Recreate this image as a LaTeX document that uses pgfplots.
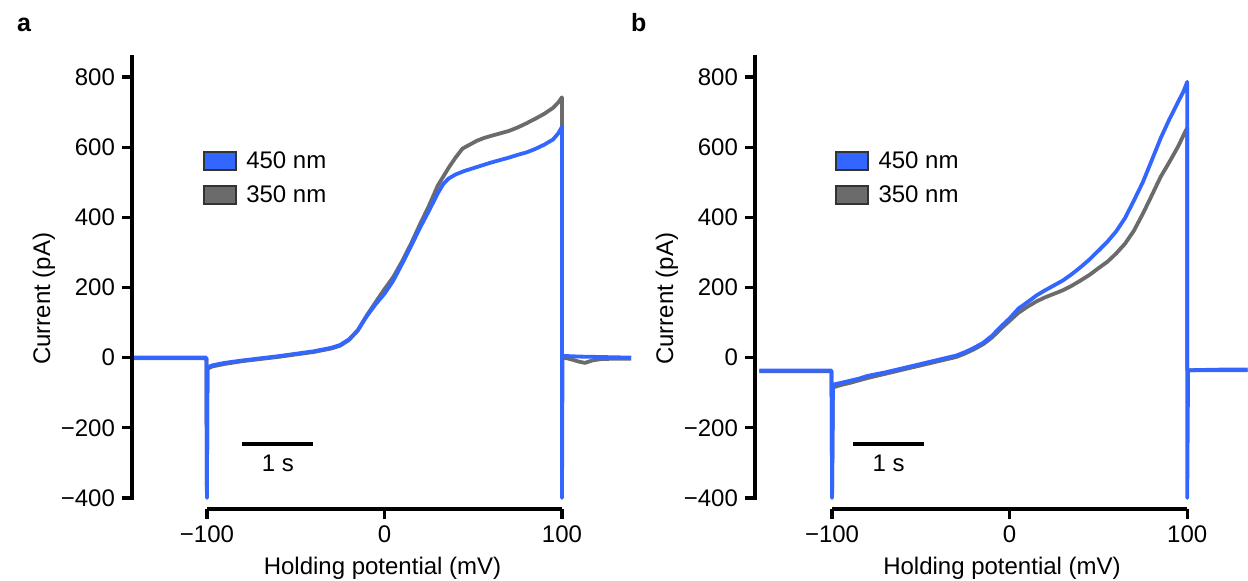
\documentclass[border=0pt]{standalone}
\usepackage{fontspec}
\setmainfont{Liberation Sans}
\usepackage{pgfplots}
\pgfplotsset{compat=1.18}
\definecolor{cblue}{HTML}{3366FF}
\definecolor{cgray}{HTML}{6B6B6B}
\definecolor{cedge}{HTML}{333333}
\newcommand{\fs}{\fontsize{12}{14}\selectfont}
\pgfplotsset{
  panel/.style={
    scale only axis,
    height=226pt,
    ymin=-431.4, ymax=857,
    clip=false,
    axis lines*=left,
    axis line style={draw=none},
    tick align=outside,
    major tick length=5pt,
    tick style={black, line width=1.6pt},
    xtick={-100,0,100},
    xticklabels={−100,0,100},
    ytick={-400,-200,0,200,400,600,800},
    yticklabels={−400,−200,0,200,400,600,800},
    tick label style={font=\fs},
    label style={font=\fs},
    xlabel={Holding potential (mV)},
    ylabel={Current (pA)},
    ylabel shift=-4pt,
    every axis y label/.append style={at={(ticklabel cs:0.465)}},
    legend style={draw=none, fill=none, inner sep=0pt, font=\fs,
      anchor=north west, row sep=3pt,
      nodes={inner sep=2pt},
      /tikz/every even column/.append style={column sep=2pt}},
    legend cell align=left,
  },
  trace/.style={line width=1.9pt, line join=round, forget plot},
  lgimg/.style={legend image code/.code={\draw[fill=#1,draw=cedge,line width=1pt] (0pt,-4.5pt) rectangle (16pt,4.5pt); \path (19pt,0pt);}},
}
\begin{document}
\begin{tikzpicture}
\useasboundingbox (0,0) rectangle (624pt,290.5pt);
\node[anchor=base west, font=\fontsize{12.5}{14}\selectfont\bfseries] at (5pt,274.5pt) {a};
\node[anchor=base west, font=\fontsize{12.5}{14}\selectfont\bfseries] at (312pt,274.5pt) {b};
% ---------------- panel a ----------------
\begin{axis}[panel, at={(66pt,36pt)}, anchor=south west, width=250.5pt,
  xmin=-142.2, xmax=140,
  legend style={at={(axis cs:-102.5,600)}}]
\addlegendimage{lgimg=cblue}
\addlegendentry{450 nm}
\addlegendimage{lgimg=cgray}
\addlegendentry{350 nm}
\draw[line width=1.6pt, line cap=rect] (axis cs:-142.2,-400) -- (axis cs:-142.2,857);
\draw[line width=1.6pt] (axis cs:-100,-431.4) -- (axis cs:100,-431.4);
\addplot[trace, cgray] coordinates {
(-141,-2) (-120,-2) (-100.3,-2) (-100,-380) (-99.7,-32) (-97,-25) (-90,-18) (-80,-10)
(-70,-4) (-60,2) (-50,9) (-40,16) (-30,26) (-25,34) (-20,50) (-15,78) (-10,120)
(-5,158) (0,195) (5,230) (10,275) (15,325) (20,380) (25,432) (30,490) (33,515)
(36,540) (40,570) (44,596) (48,607) (52,618) (56,626) (60,632) (65,639) (70,646)
(75,656) (80,668) (85,681) (90,695) (95,712) (98,728) (100,742) (100,0)
(103,-2) (106,-6) (110,-12) (113,-15) (117,-8) (122,-4) (130,-3) (139,-3)};
\addplot[trace, cblue] coordinates {
(-141,0) (-120,0) (-100.3,0) (-100,-400) (-99.7,-28) (-97,-22) (-90,-15) (-80,-8)
(-70,-2) (-60,4) (-50,11) (-40,18) (-30,28) (-25,36) (-20,52) (-15,78) (-10,118)
(-5,152) (0,182) (5,220) (10,268) (15,318) (20,370) (25,418) (30,468) (33,494)
(36,510) (40,522) (45,532) (50,540) (55,548) (60,556) (65,563) (70,570) (75,578)
(80,585) (85,595) (90,607) (95,622) (98,640) (100,658) (100,-400) (100.3,5)
(110,3) (120,2) (130,1) (139,0)};
\addplot[black, line width=1.6pt, forget plot] coordinates {(-80,-246) (-40,-246)};
\node[font=\fs] at (axis cs:-60,-300) {1 s};
\end{axis}
% ---------------- panel b ----------------
\begin{axis}[panel, at={(377.5pt,36pt)}, anchor=south west, width=247pt,
  xmin=-143.4, xmax=134.8,
  legend style={at={(axis cs:-98.5,600)}}]
\addlegendimage{lgimg=cblue}
\addlegendentry{450 nm}
\addlegendimage{lgimg=cgray}
\addlegendentry{350 nm}
\draw[line width=1.6pt, line cap=rect] (axis cs:-143.4,-400) -- (axis cs:-143.4,857);
\draw[line width=1.6pt] (axis cs:-100,-431.4) -- (axis cs:100,-431.4);
\addplot[trace, cgray] coordinates {
(-141,-39) (-120,-39) (-100.3,-39) (-100,-380) (-99.5,-85) (-95,-78) (-90,-72)
(-85,-65) (-80,-58) (-70,-46) (-60,-34) (-50,-22) (-40,-10) (-30,2) (-25,12)
(-20,24) (-15,38) (-10,57) (-5,82) (0,105) (5,128) (10,145) (15,160) (20,172)
(25,182) (30,192) (35,205) (40,220) (45,236) (50,255) (55,273) (60,297) (65,325)
(70,362) (75,410) (80,462) (85,515) (90,558) (95,603) (98,635) (100,655) (100,-36)
(110,-36) (120,-36) (134,-36)};
\addplot[trace, cblue] coordinates {
(-141,-37) (-120,-37) (-100.3,-37) (-100,-400) (-99.5,-77) (-95,-72) (-90,-66)
(-85,-60) (-80,-52) (-70,-42) (-60,-30) (-50,-18) (-40,-6) (-30,6) (-25,16)
(-20,28) (-15,42) (-10,62) (-5,88) (0,112) (5,140) (10,158) (15,177) (20,192)
(25,206) (30,220) (35,238) (40,258) (45,280) (50,305) (55,330) (60,360) (65,398)
(70,448) (75,500) (80,562) (85,625) (90,680) (95,730) (98,760) (100,786)
(100,-400) (100.5,-36) (110,-35) (120,-34) (134,-34)};
\addplot[black, line width=1.6pt, forget plot] coordinates {(-88.2,-246) (-48.2,-246)};
\node[font=\fs] at (axis cs:-68.2,-300) {1 s};
\end{axis}
\end{tikzpicture}
\end{document}
